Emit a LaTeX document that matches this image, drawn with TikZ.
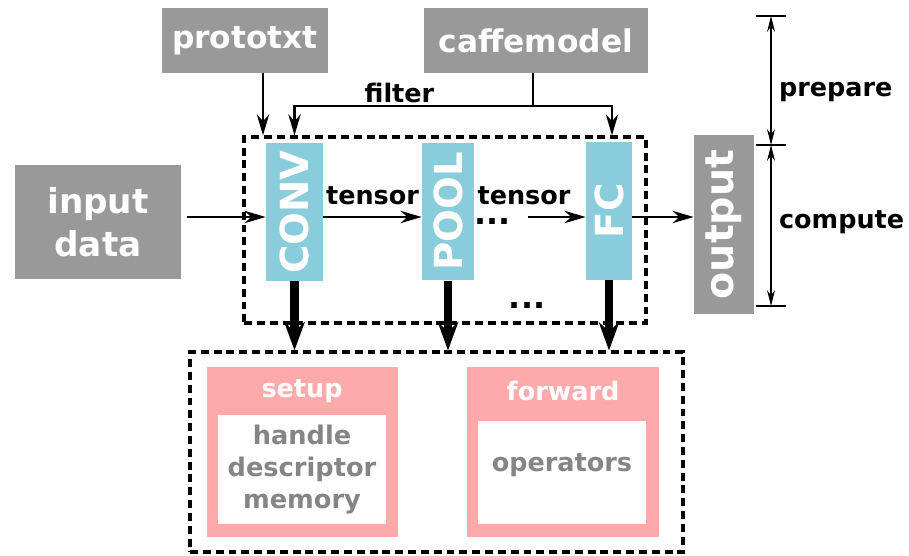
\documentclass[tikz,border=0pt]{standalone}
\usepackage{fontspec}
\setmainfont{DejaVu Sans}
\usepackage{graphicx}
\usetikzlibrary{arrows.meta}

\definecolor{filegray}{HTML}{999999}
\definecolor{layerblue}{HTML}{89CCDC}
\definecolor{implpink}{HTML}{FFAAAA}
\definecolor{notegray}{HTML}{858585}

\begin{document}
\begin{tikzpicture}[
x=0.02cm,y=-0.02cm,
filebox/.style={
  fill=filegray,
  text=white,
  inner sep=0pt,
  font=\bfseries\fontsize{17.8}{21}\selectfont
  },
layer/.style={
  fill=layerblue,
  text=white,
  inner sep=0pt,
  minimum height=2.76cm,
  font=\bfseries\fontsize{22}{26}\selectfont
  },
implbox/.style={fill=implpink,inner sep=0pt,minimum width=3.83cm,minimum height=3.4cm},
innerbox/.style={fill=white,inner sep=0pt,minimum width=3.36cm},
dashbox/.style={draw,dash pattern=on 4.5pt off 2.8pt,line width=1.8pt,inner sep=0pt},
note/.style={inner sep=1pt,font=\bfseries\fontsize{14.5}{18.4}\selectfont},
dotsnote/.style={inner sep=0pt,anchor=base,font=\bfseries\fontsize{18}{20}\selectfont},
thinarrow/.style={-{Stealth[length=12pt,width=7pt]},line width=1.4pt},
bigarrow/.style={-{Stealth[length=16pt,width=11.5pt]},line width=5pt},
dimline/.style={{Stealth[length=9pt,width=4.5pt]}-{Stealth[length=9pt,width=4.5pt]},line width=0.6pt}
]
\useasboundingbox (0,0) rectangle (909,555);

% model files and data
\node[filebox,minimum width=3.32cm,minimum height=1.3cm] (prototxt) at (245,40.5) {prototxt};
\node[filebox,minimum width=4.48cm,minimum height=1.3cm] (caffemodel) at (536,40.5) {caffemodel};
\node[filebox,minimum width=3.32cm,minimum height=2.28cm,align=center,
  font=\bfseries\fontsize{19.5}{24.4}\selectfont] (input) at (98,222) {input\\data};

% dashed groups
\node[dashbox,minimum width=8.04cm,minimum height=3.72cm] (layers) at (445,230) {};
\node[dashbox,minimum width=9.86cm,minimum height=4cm] (impl) at (436.5,452) {};

% layers
\foreach \Name/\Pos/\Wd in {CONV/{294.5,212}/1.14,POOL/{448,211.5}/1.04,FC/{609,211}/0.92}
  \node[layer,minimum width=\Wd cm] (\Name) at (\Pos) {\rotatebox{90}{\Name}};
\node[filebox,minimum width=1.2cm,minimum height=3.58cm,
  font=\bfseries\fontsize{22.5}{27}\selectfont] (output) at (724,224.5) {\rotatebox{90}{output}};

% setup / forward
\node[implbox] (setup) at (302.5,452) {};
\node[innerbox,minimum height=2.18cm,align=center,text=notegray,
  font=\bfseries\fontsize{14.6}{18.4}\selectfont] (setupin) at (302,469.5) {handle\\descriptor\\memory};
\node[note,text=white] (setuptitle) at (302,391) {setup};
\node[implbox] (forward) at (563,452) {};
\node[innerbox,minimum height=2.06cm] (forwardin) at (562,472.5) {};
\node[note,text=notegray] (ops) at (562,465) {operators};
\node[note,text=white] (forwardtitle) at (563,391) {forward};

% connectors
\coordinate (row) at (0,217);
\coordinate (split) at (533,106);
\draw[thinarrow] ([xshift=0.36cm]prototxt.south) -- ([xshift=0.36cm]prototxt.south |- layers.north);
\draw[line width=1.4pt] (caffemodel.south -| split) -- (split);
\draw[thinarrow] (split) -| node[note,pos=0.28,above] {filter} (CONV.north |- layers.north);
\draw[thinarrow] (split) -| ([xshift=0.06cm]FC.north |- layers.north);

\draw[thinarrow,shorten <=3pt] (input.east |- row) -- (CONV.west |- row);
\draw[thinarrow] (CONV.east |- row) -- node[note,above=5pt] {tensor} (POOL.west |- row);
\node[dotsnote] (dots) at (492.5,224) {...};
\node[note] (tensorb) at (524,196) {tensor};
\draw[thinarrow,shorten <=10pt] (dots.east |- row) -- (FC.west |- row);
\draw[thinarrow] (FC.east |- row) -- (output.west |- row);
\node[dotsnote] (moredots) at (527,308) {...};

\foreach \Name in {CONV,POOL,FC}
  \draw[bigarrow] (\Name.south) -- (\Name.south |- impl.north);

% prepare / compute scale
\coordinate (d0) at (771,16);
\coordinate (d1) at (771,145);
\coordinate (d2) at (771,306);
\foreach \P in {d0,d1,d2}
  \draw[line width=0.6pt] ([xshift=-0.3cm]\P) -- ([xshift=0.3cm]\P);
\draw[dimline] (d0) -- (d1);
\draw[dimline] (d1) -- (d2);
\node[note,anchor=west] (prepare) at (777,92) {prepare};
\node[note,anchor=west] (compute) at (777,222) {compute};
\end{tikzpicture}
\end{document}
